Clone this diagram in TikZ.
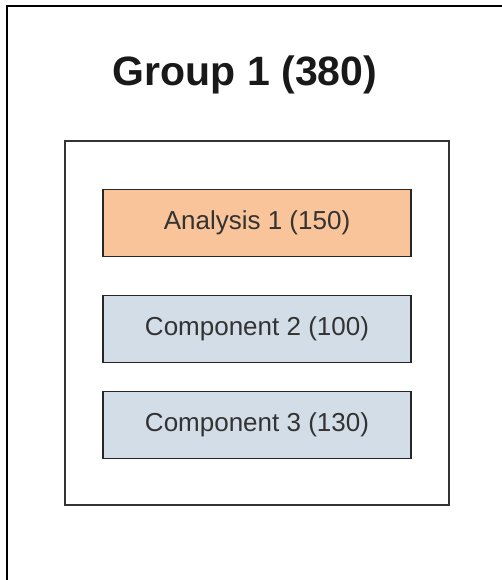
\documentclass[tikz,border=0pt]{standalone}
\usepackage{fontspec}
\setmainfont{Liberation Sans}
\definecolor{orangefill}{HTML}{F9C49A}
\definecolor{bluefill}{HTML}{D3DDE7}
\definecolor{txt}{HTML}{333333}
\begin{document}
\begin{tikzpicture}[x=1pt,y=-1pt,
  item/.style={draw=black!85, line width=1.4pt, minimum width=308pt, minimum height=67pt, inner sep=0pt, text=txt, font=\fontsize{26}{30}\selectfont},
  frame/.style={draw=black!80, line width=1.8pt}]
\useasboundingbox (0,0) rectangle (502,580);
\draw[line width=2pt, black] (515,6.5) -- (7,6.5) -- (7,595);
\node[font=\bfseries\fontsize{41}{48}\selectfont, text=black!90] (title) at (245,75) {Group 1 (380)};
\node[frame, minimum width=384pt, minimum height=364pt, inner sep=0pt] (group) at (257,323) {};
\node[item, fill=orangefill] (a1) at (257,223) {Analysis 1 (150)};
\node[item, fill=bluefill] (c2) at (257,329) {Component 2 (100)};
\node[item, fill=bluefill] (c3) at (257,425) {Component 3 (130)};
\end{tikzpicture}
\end{document}
